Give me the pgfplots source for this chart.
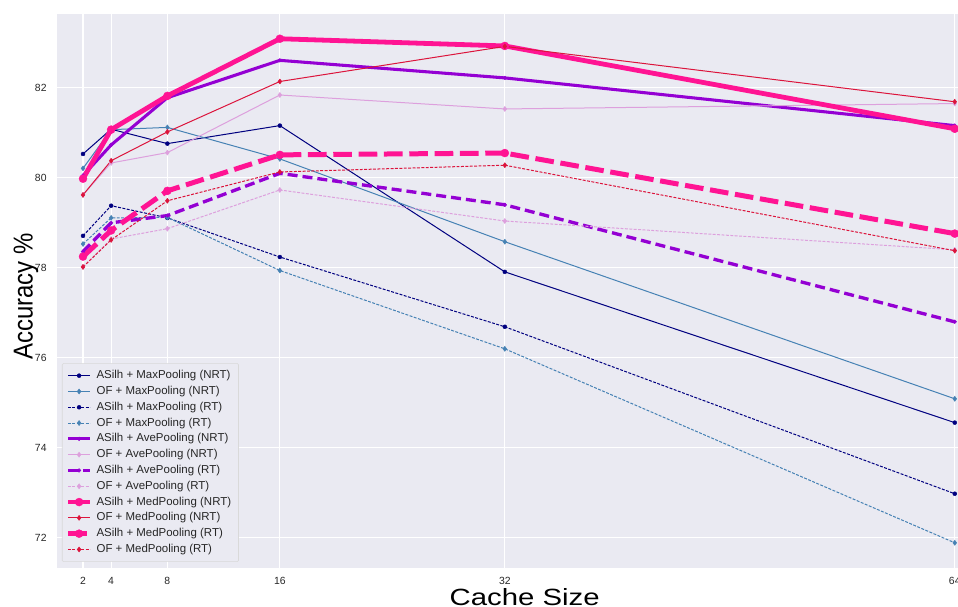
\documentclass[border=0pt]{standalone}
\usepackage{fontspec}
\setmainfont{Liberation Sans}
\usepackage{pgfplots}
\usepackage{graphicx}
\pgfplotsset{compat=1.18}
\definecolor{bg}{HTML}{EAEAF2}
\definecolor{cnavy}{HTML}{000080}
\definecolor{csteel}{HTML}{4682B4}
\definecolor{cviolet}{HTML}{9400D3}
\definecolor{cplum}{HTML}{DDA0DD}
\definecolor{cpink}{HTML}{FF1493}
\definecolor{ccrimson}{HTML}{DC143C}
\pgfplotsset{
  thinA/.style={line width=0.75pt, mark=*, mark size=1.5pt, mark options={solid, line width=0.3pt}},
  thinO/.style={line width=0.75pt, mark=diamond*, mark size=1.9pt, mark options={solid, line width=0.3pt}},
  rt/.style={dash pattern=on 2.2pt off 1.1pt},
}
\pgfplotstableread{
x  amn    omn    amr    omr    aan    oan    aar    oar    amdn   omdn   amdr   omdr
2  80.53  80.21  78.71  78.53  80.05  79.62  78.36  78.02  79.98  79.62  78.25  78.02
4  81.08  81.07  79.38  79.11  80.73  80.33  79.00  78.64  81.07  80.38  78.83  78.62
8  80.76  81.12  79.11  79.12  81.78  80.56  79.16  78.87  81.82  81.02  79.71  79.49
16 81.16  80.42  78.24  77.94  82.61  81.84  80.10  79.73  83.09  82.14  80.51  80.13
32 77.91  78.58  76.69  76.20  82.22  81.53  79.40  79.04  82.93  82.92  80.55  80.28
64 74.56  75.09  72.98  71.89  81.16  81.65  76.80  78.40  81.09  81.69  78.76  78.38
}\data
\begin{document}
\begin{tikzpicture}[x=1pt,y=1pt]
\path[use as bounding box] (-42.75,-29.25) rectangle (675.75,426);
\begin{axis}[
  at={(0,0)}, anchor=south west,
  scale only axis, width=675.75pt, height=415.5pt,
  xmin=0.15, xmax=64.23, ymin=71.33, ymax=83.64,
  axis background/.style={fill=bg},
  axis line style={draw=none},
  major tick length=0pt,
  grid=major, major grid style={white, line width=0.9pt},
  xtick={2,4,8,16,32,64}, ytick={72,74,...,82},
  tick label style={font=\fontsize{7.8}{9}\selectfont, text=black!85},
  /pgf/number format/assume math mode=true,
  xticklabel style={yshift=-3.5pt},
  yticklabel style={xshift=-4.3pt},
  xlabel={\scalebox{1}[0.8]{Cache Size}},
  ylabel={\scalebox{0.875}[1]{Accuracy \%}},
  every axis x label/.style={at={(axis description cs:0.519,-0.068)}, anchor=base, font=\fontsize{22}{24}\selectfont},
  every axis y label/.style={at={(axis description cs:-0.0345,0.49)}, rotate=90, anchor=center, font=\fontsize{20.5}{23}\selectfont},
  clip=false,
  legend cell align=left,
  legend style={at={(axis description cs:0,0)}, anchor=south west, xshift=3.75pt, yshift=4.5pt,
    fill=bg, draw=black!15, rounded corners=1pt,
    font=\fontsize{8.6}{10}\selectfont, text=black!85,
    row sep=0.45pt, inner xsep=2.5pt, inner ysep=3.5pt,
    nodes={inner ysep=1.6pt, inner xsep=3pt, text height=6.4pt, text depth=1.8pt}},
  legend image code/.code={\draw[mark repeat=2,mark phase=2] plot coordinates {(0pt,0pt)(8.25pt,0pt)(16.5pt,0pt)};},
]
\addplot[thinA, color=cnavy] table[x=x,y=amn]{\data};
\addlegendentry{ASilh + MaxPooling (NRT)}
\addplot[thinO, color=csteel] table[x=x,y=omn]{\data};
\addlegendentry{OF + MaxPooling (NRT)}
\addplot[thinA, rt, color=cnavy] table[x=x,y=amr]{\data};
\addlegendentry{ASilh + MaxPooling (RT)}
\addplot[thinO, rt, color=csteel] table[x=x,y=omr]{\data};
\addlegendentry{OF + MaxPooling (RT)}
\addplot[color=cviolet, line width=2.3pt, mark=*, mark size=1.4pt, mark options={solid, line width=0.3pt}] table[x=x,y=aan]{\data};
\addlegendentry{ASilh + AvePooling (NRT)}
\addplot[thinO, color=cplum] table[x=x,y=oan]{\data};
\addlegendentry{OF + AvePooling (NRT)}
\addplot[color=cviolet, line width=2.5pt, dash pattern=on 7.5pt off 3.75pt, mark=*, mark size=1.4pt, mark options={solid, line width=0.3pt}] table[x=x,y=aar]{\data};
\addlegendentry{ASilh + AvePooling (RT)}
\addplot[thinO, rt, color=cplum] table[x=x,y=oar]{\data};
\addlegendentry{OF + AvePooling (RT)}
\addplot[color=cpink, line width=3.6pt, mark=*, mark size=3pt, mark options={solid, line width=0.3pt}] table[x=x,y=amdn]{\data};
\addlegendentry{ASilh + MedPooling (NRT)}
\addplot[thinO, color=ccrimson] table[x=x,y=omdn]{\data};
\addlegendentry{OF + MedPooling (NRT)}
\addplot[color=cpink, line width=3.75pt, dash pattern=on 14pt off 5pt, mark=*, mark size=3pt, mark options={solid, line width=0.3pt}] table[x=x,y=amdr]{\data};
\addlegendentry{ASilh + MedPooling (RT)}
\addplot[thinO, rt, color=ccrimson] table[x=x,y=omdr]{\data};
\addlegendentry{OF + MedPooling (RT)}
\end{axis}
\end{tikzpicture}
\end{document}
